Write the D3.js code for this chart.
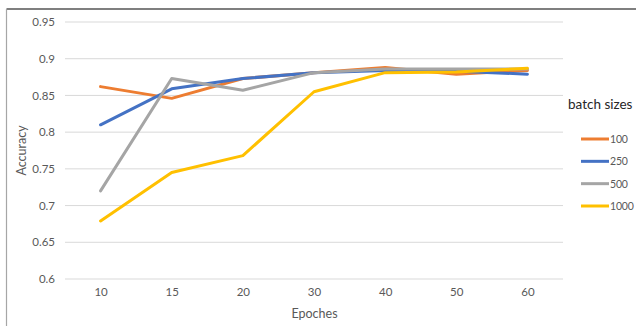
<!DOCTYPE html>
<html>
<head>
<meta charset="utf-8">
<script src="https://cdn.jsdelivr.net/npm/d3@7"></script>
<style>
  html, body { margin: 0; padding: 0; background: #fff; }
  svg { display: block; font-family: Lato, "Open Sans", sans-serif; }
</style>
</head>
<body>
<svg id="chart" width="636" height="326"></svg>
<script>
// Epoch categories on the x axis
const epochs = ["10", "15", "20", "30", "40", "50", "60"];

// Accuracy per batch size
const acc100  = [0.862, 0.846, 0.873, 0.881, 0.888, 0.879, 0.884];
const acc250  = [0.810, 0.859, 0.873, 0.881, 0.884, 0.883, 0.879];
const acc500  = [0.720, 0.873, 0.857, 0.881, 0.886, 0.886, 0.886];
const acc1000 = [0.679, 0.745, 0.768, 0.855, 0.881, 0.882, 0.887];

const seriesNames = ["100", "250", "500", "1000"];
const yTicks = [0.6, 0.65, 0.7, 0.75, 0.8, 0.85, 0.9, 0.95];

const colors = ["#ED7D31", "#4472C4", "#A5A5A5", "#FFC000"];
const series = [acc100, acc250, acc500, acc1000].map((vals, i) => ({
  name: seriesNames[i], values: vals, color: colors[i]
}));

const svg = d3.select("#chart");
const plot = { left: 65, right: 563, top: 22, bottom: 279 };

// frame: dark top rule and light left rule
svg.append("line").attr("x1", 6.5).attr("x2", 636).attr("y1", 9).attr("y2", 9)
  .attr("stroke", "#000").attr("stroke-width", 1.2);
svg.append("line").attr("x1", 6.5).attr("x2", 6.5).attr("y1", 9).attr("y2", 326)
  .attr("stroke", "#a6a6a6").attr("stroke-width", 1.2);

const x = d3.scalePoint().domain(epochs).range([plot.left, plot.right]).padding(0.5);
const y = d3.scaleLinear().domain([0.6, 0.95]).range([plot.bottom, plot.top]);

// horizontal gridlines
svg.append("g").selectAll("line").data(yTicks).join("line")
  .attr("x1", plot.left).attr("x2", plot.right)
  .attr("y1", d => y(d)).attr("y2", d => y(d))
  .attr("stroke", "#d9d9d9").attr("stroke-width", 1);

// y axis labels
const yAxis = d3.axisLeft(y).tickValues(yTicks).tickSize(0).tickPadding(0)
  .tickFormat(d => d3.format("")(+d.toFixed(2)));
const gy = svg.append("g").attr("transform", `translate(${plot.left - 10},0)`).call(yAxis);
gy.select(".domain").remove();
gy.selectAll("text").attr("fill", "#595959").style("font-size", "11.5px")
  .style("font-family", "Lato, 'Open Sans', sans-serif");

// x axis labels
const xAxis = d3.axisBottom(x).tickSize(0).tickPadding(0);
const gx = svg.append("g").attr("transform", `translate(0,${plot.bottom + 9})`).call(xAxis);
gx.select(".domain").remove();
gx.selectAll("text").attr("fill", "#595959").style("font-size", "11.5px")
  .style("font-family", "Lato, 'Open Sans', sans-serif");

// axis titles
svg.append("text").attr("x", (plot.left + plot.right) / 2 + 0.5).attr("y", 318)
  .attr("text-anchor", "middle").attr("fill", "#595959").style("font-size", "12.5px")
  .text("Epoches");
svg.append("text").attr("transform", `translate(26,${(plot.top + plot.bottom) / 2}) rotate(-90)`)
  .attr("text-anchor", "middle").attr("fill", "#595959").style("font-size", "12.5px")
  .text("Accuracy");

// series lines
const line = d3.line().x((d, i) => x(epochs[i])).y(d => y(d));
svg.append("g").selectAll("path").data(series).join("path")
  .attr("d", d => line(d.values))
  .attr("fill", "none").attr("stroke", d => d.color)
  .attr("stroke-width", 3).attr("stroke-linejoin", "round").attr("stroke-linecap", "round");

// legend
const legend = svg.append("g");
legend.append("text").attr("x", 568).attr("y", 109).attr("fill", "#262626")
  .style("font-size", "13.5px").text("batch sizes");
const legY = d3.scalePoint().domain(seriesNames).range([139, 206]);
const items = legend.selectAll("g.item").data(series).join("g").attr("class", "item")
  .attr("transform", d => `translate(0,${legY(d.name)})`);
items.append("line").attr("x1", 581).attr("x2", 609).attr("y1", 0).attr("y2", 0)
  .attr("stroke", d => d.color).attr("stroke-width", 3);
items.append("text").attr("x", 610).attr("y", 4).attr("fill", "#595959")
  .style("font-size", "10.5px").style("letter-spacing", "-0.2px").text(d => d.name);
</script>
</body>
</html>
